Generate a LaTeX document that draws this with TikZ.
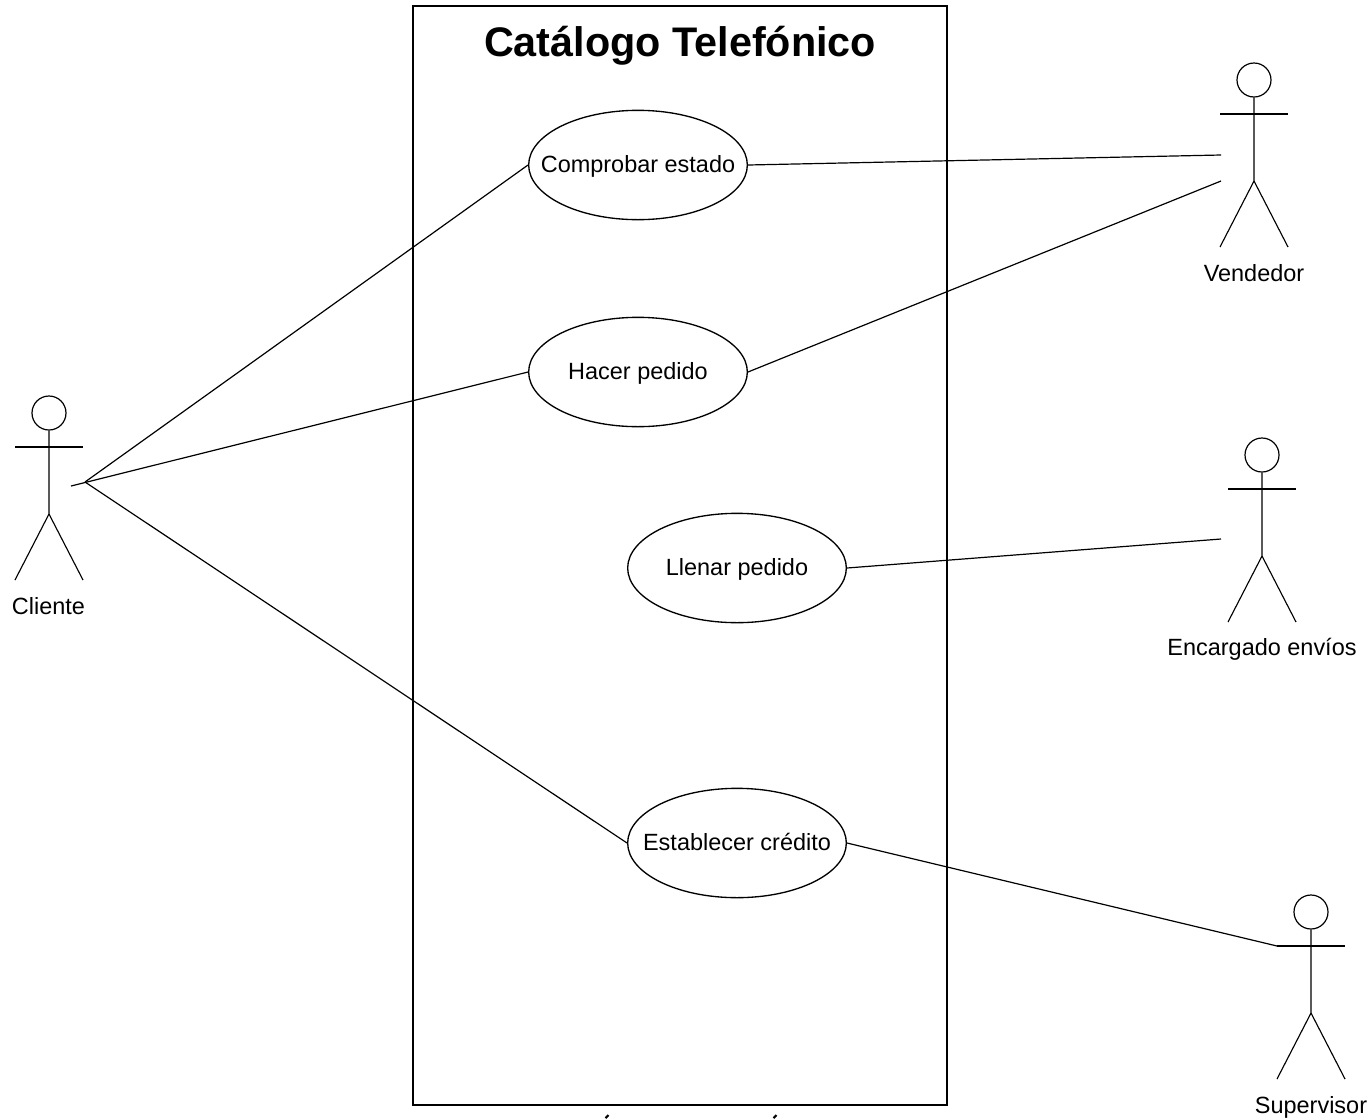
\documentclass[tikz,border=0pt]{standalone}
\usepackage{fontspec}
\setmainfont{Liberation Sans}
\usetikzlibrary{shapes.geometric}
\tikzset{
  x=0.75pt,y=-0.75pt,
  usecase/.style={ellipse,draw=black,fill=white,line width=1pt,minimum width=164pt,minimum height=82pt,inner sep=0pt,text height=11.2pt,text depth=0pt,font=\fontsize{17.6}{20}\selectfont},
  label text/.style={font=\fontsize{17.6}{20}\selectfont,inner sep=0pt,anchor=base},
  link/.style={draw=black,line width=0.9pt},
  stick/.style={draw=black,line width=0.85pt},
  head/.style={circle,draw=black,line width=0.9pt,minimum size=25.5pt,inner sep=0pt},
  frame/.style={draw=black,line width=1.7pt},
}
\newcommand{\stickman}[3]{% name, cx, headcy
  \node[head] (#1head) at (#2,#3) {};
  \coordinate (#1hip) at (#2,#3+101);
  \coordinate (#1larm) at (#2-34,#3+34);
  \coordinate (#1rarm) at (#2+34,#3+34);
  \coordinate (#1lfoot) at (#2-34,#3+167);
  \coordinate (#1rfoot) at (#2+34,#3+167);
  \draw[stick] (#1head.south) -- (#1hip) -- (#1lfoot);
  \draw[stick] (#1hip) -- (#1rfoot);
  \draw[stick] (#1larm) -- (#1rarm);
}
\begin{document}
\begin{tikzpicture}
\useasboundingbox (0,0) rectangle (1371,1118);
\draw[frame] (413,6) rectangle (947,1105);
\node[font=\fontsize{31}{38}\selectfont\bfseries,inner sep=0pt,anchor=base] (title) at (680,56) {Catálogo Telefónico};

\node[usecase] (comprobar) at (638,165) {\makebox[0pt]{Comprobar estado}};
\node[usecase] (hacer) at (638,372) {\makebox[0pt]{Hacer pedido}};
\node[usecase] (llenar) at (737,568) {\makebox[0pt]{Llenar pedido}};
\node[usecase] (establecer) at (737,843) {\makebox[0pt]{Establecer crédito}};

\stickman{cliente}{49}{413}
\stickman{vendedor}{1254}{80}
\stickman{encargado}{1262}{455}
\stickman{supervisor}{1311}{912}

\node[label text] (lcliente) at (48.5,614) {Cliente};
\node[label text] (lvendedor) at (1254,281) {Vendedor};
\node[label text] (lencargado) at (1262,655) {Encargado envíos};
\node[label text] (lsupervisor) at (1311,1113) {Supervisor};

\coordinate (cstart) at (71,486);
\coordinate (cjoin) at (85,482);
\coordinate (vend1) at (1221,155);
\coordinate (vend2) at (1221,181);
\coordinate (enc) at (1221,539);

\draw[link] (cstart) -- (hacer.west);
\draw[link] (cjoin) -- (comprobar.west);
\draw[link] (cjoin) -- (establecer.west);
\draw[link] (comprobar.east) -- (vend1);
\draw[link] (hacer.east) -- (vend2);
\draw[link] (llenar.east) -- (enc);
\draw[link] (establecer.east) -- (supervisorlarm);

% accents of the text cut off by the lower edge
\draw[draw=black,line width=1.6pt] (605.5,1118) -- (608.5,1115);
\draw[draw=black,line width=1.6pt] (773.5,1118) -- (776.5,1115);
\end{tikzpicture}
\end{document}
